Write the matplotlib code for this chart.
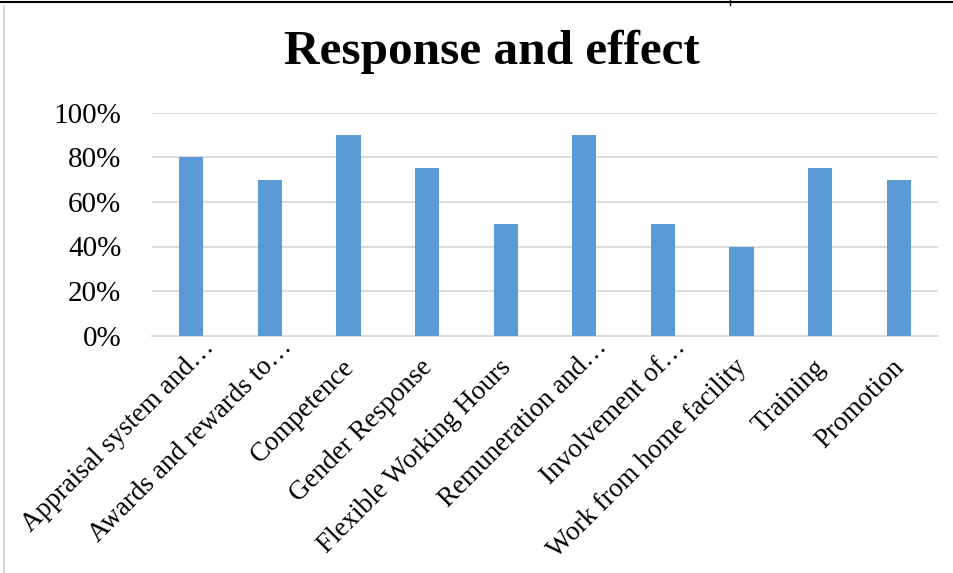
import matplotlib
matplotlib.use("Agg")
import matplotlib.pyplot as plt
from matplotlib.lines import Line2D
from matplotlib.ticker import PercentFormatter
from matplotlib.transforms import ScaledTranslation

categories = ["Appraisal system and\u2026", "Awards and rewards to\u2026", "Competence",
              "Gender Response", "Flexible Working Hours", "Remuneration and\u2026",
              "Involvement of\u2026", "Work from home facility", "Training", "Promotion"]
values = [80, 70, 90, 75, 50, 90, 50, 40, 75, 70]
yticks = [0, 20, 40, 60, 80, 100]

plt.rcParams['font.family'] = ['Liberation Serif', 'DejaVu Serif']

fig = plt.figure(figsize=(9.54, 5.73), dpi=100)
ax = fig.add_axes([152/954, 1 - 335.7/573, 786/954, 223/573])

x = range(len(categories))
ax.bar(x, values, width=0.31, color='#5B9BD5', zorder=3)

ax.set_xlim(-0.5, len(categories) - 0.5)
ax.set_ylim(0, 100)
ax.set_yticks(yticks)
ax.yaxis.set_major_formatter(PercentFormatter(decimals=0))
ax.grid(axis='y', color='#D9D9D9', linewidth=1.3, zorder=0)
ax.set_axisbelow(True)

for s in ['left', 'right', 'top']:
    ax.spines[s].set_visible(False)
ax.spines['bottom'].set_color('#D9D9D9')
ax.spines['bottom'].set_linewidth(1.3)

ax.tick_params(axis='y', length=0, pad=22, labelsize=21)
ax.tick_params(axis='x', length=0, pad=8, labelsize=19.5)
ax.set_xticks(list(x))
ax.set_xticklabels(categories, rotation=45, ha='right', va='top', rotation_mode='anchor')

# slanted labels: small nudge, truncated ones sit further up along the slant
for lbl in ax.get_xticklabels():
    dx, dy = -7, -8
    if lbl.get_text().endswith("\u2026"):
        dx, dy = dx + 17, dy + 20
    lbl.set_transform(lbl.get_transform() + ScaledTranslation(dx/100, dy/100, fig.dpi_scale_trans))

fig.text(492/954, 1 - 52/573, "Response and effect", ha='center', va='center',
         fontsize=35.5, fontweight='bold')

# frame lines around the chart
fig.add_artist(Line2D([0, 1], [1 - 1.5/573, 1 - 1.5/573], color='black', linewidth=1.5))
fig.add_artist(Line2D([730/954, 730/954], [1, 1 - 5/573], color='black', linewidth=1))
fig.add_artist(Line2D([4/954, 4/954], [0, 1 - 6/573], color='#D9D9D9', linewidth=1.5))

fig.savefig("out.png", dpi=100)
